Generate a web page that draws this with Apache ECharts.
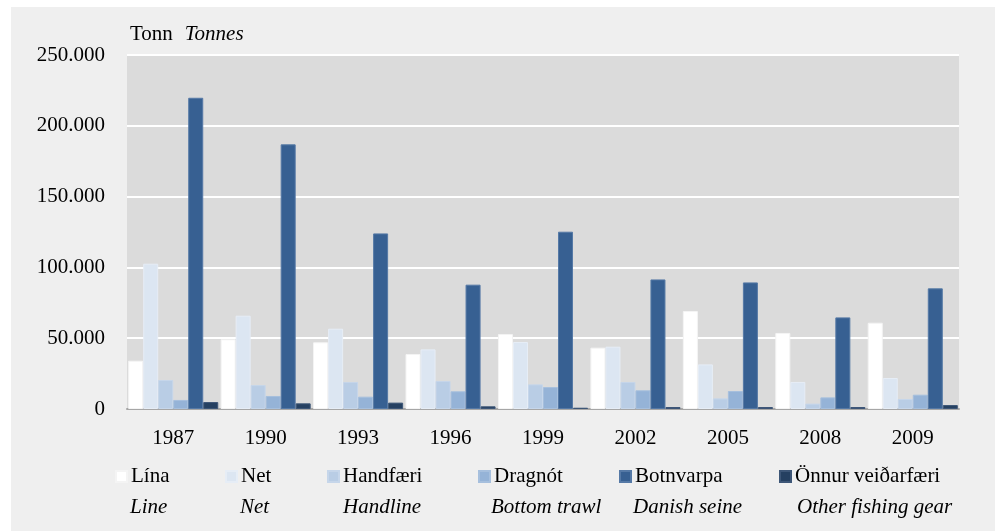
<!DOCTYPE html>
<html>
<head>
<meta charset="utf-8">
<script src="https://cdn.jsdelivr.net/npm/echarts@6/dist/echarts.min.js"></script>
<style>
html,body{margin:0;padding:0;background:#fff;}
#c{width:1000px;height:531px;}
</style>
</head>
<body>
<div id="c"></div>
<script>
const years = ['1987','1990','1993','1996','1999','2002','2005','2008','2009'];
const seriesNames = ['Lína','Net','Handfæri','Dragnót','Botnvarpa','Önnur veiðarfæri'];
const englishNames = ['Line','Net','Handline','Bottom trawl','Danish seine','Other fishing gear'];
const lina      = [34100, 49200, 47100, 38800, 52900, 43300, 69200, 53700, 60900];
const net       = [102600, 65900, 56700, 42100, 47300, 44000, 31500, 19100, 21900];
const handfaeri = [20500, 16900, 19100, 19800, 17400, 19100, 7500, 3800, 7100];
const dragnot   = [6400, 9200, 8700, 12500, 15500, 13200, 12700, 8200, 10100];
const botnvarpa = [219800, 186900, 124000, 87800, 125200, 91500, 89400, 64700, 85200];
const onnur     = [4900, 4000, 4500, 1900, 900, 1400, 1400, 1400, 2800];
const yTicks = { min: 0, max: 250000, interval: 50000 };

const allData = [lina, net, handfaeri, dragnot, botnvarpa, onnur];
const colors = ['#ffffff','#dce6f2','#b9cde5','#95b3d7','#376092','#254061'];
const borders = ['#f4f4f4','#e6edf6','#c6d6ea','#a6bfdd','#5579a6','#3d5677'];
const markerLeft = [115,225,327,478,619,779];
const engLeft = [130,240,343,491,633,797];
const FONT = "'Liberation Serif','Times New Roman',serif";
const FS = 21;

const chart = echarts.init(document.getElementById('c'), null, {renderer:'canvas'});

const fmt = v => String(v).replace(/\B(?=(\d{3})+(?!\d))/g, '.');

const option = {
  animation: false,
  backgroundColor: '#ffffff',
  textStyle: { fontFamily: FONT },
  grid: { left: 127, right: 41, top: 55, bottom: 122, containLabel: false,
          show: true, backgroundColor: '#dbdbdb', borderWidth: 0 },
  xAxis: {
    type: 'category', data: years,
    axisLine: { show: true, lineStyle: { color: '#a6a6a6', width: 2 } },
    axisTick: { show: false },
    axisLabel: { color: '#000', fontSize: FS, fontFamily: FONT, margin: 19 }
  },
  yAxis: {
    type: 'value', min: yTicks.min, max: yTicks.max, interval: yTicks.interval,
    axisLine: { show: false }, axisTick: { show: false },
    splitLine: { show: true, lineStyle: { color: '#ffffff', width: 2 } },
    axisLabel: { color: '#000', fontSize: FS, fontFamily: FONT, margin: 22, formatter: fmt }
  },
  legend: seriesNames.map((n, i) => ({
    data: [n], left: markerLeft[i], top: 466, orient: 'horizontal', padding: 0,
    icon: 'rect', itemWidth: 11, itemHeight: 11, selectedMode: false,
    textStyle: { color: '#000', fontSize: FS, fontFamily: FONT, padding: [0,0,0,-1] }
  })),
  graphic: [
    { type: 'rect', z: -10, silent: true, shape: { x: 11, y: 7, width: 984, height: 530 },
      style: { fill: '#efefef' } },
    { type: 'text', left: 130, top: 24, style: {
        text: '{a|Tonn}{b|Tonnes}',
        rich: { a: { fontSize: FS, fontFamily: FONT, fill: '#000', padding: [0, 12, 0, 0] },
                b: { fontSize: FS, fontFamily: FONT, fontStyle: 'italic', fill: '#000' } } } },
    ...englishNames.map((t, i) => ({
      type: 'text', x: engLeft[i], y: 507, silent: true,
      style: { text: t, fontSize: FS, fontFamily: FONT, fontStyle: 'italic', fill: '#000',
               align: 'left', verticalAlign: 'middle' }
    }))
  ],
  series: seriesNames.map((n, i) => ({
    name: n, type: 'bar', data: allData[i],
    barGap: '0%', barCategoryGap: '2.6%',
    itemStyle: { color: colors[i], borderColor: borders[i], borderWidth: 1 }
  }))
};
chart.setOption(option);
</script>
</body>
</html>
